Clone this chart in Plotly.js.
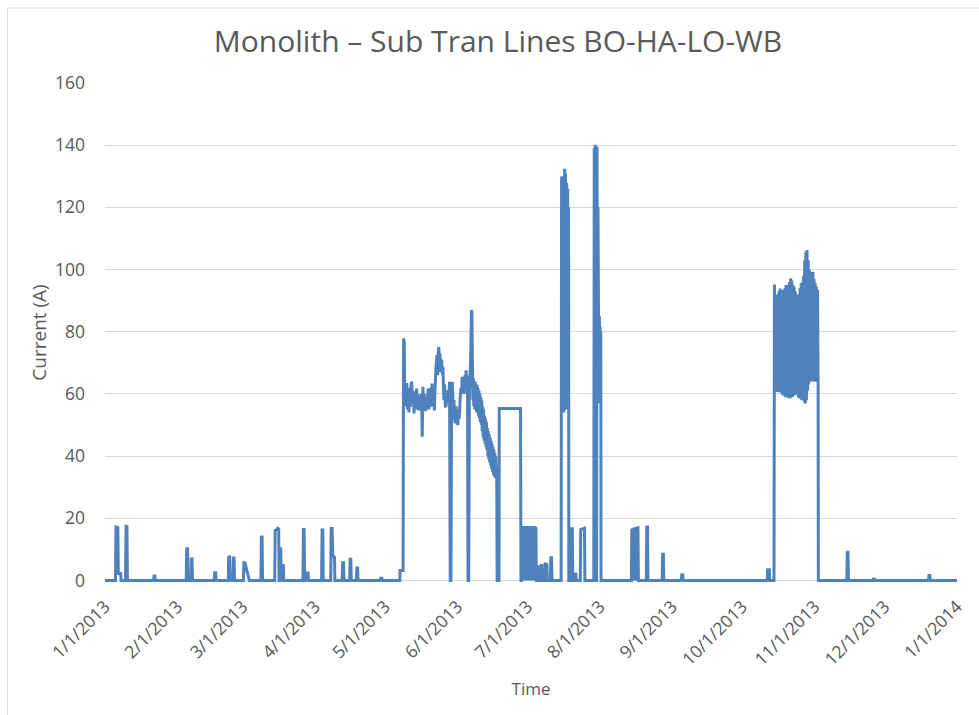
<!DOCTYPE html>
<html>
<head>
<meta charset="utf-8">
<script src="https://cdn.plot.ly/plotly-3.0.1.min.js"></script>
<style>
  html, body { margin: 0; padding: 0; background: #ffffff; }
  #chart { width: 979px; height: 715px; }
</style>
</head>
<body>
<div id="chart"></div>
<script>
// Time axis values are days elapsed since 2013-01-01; current in amperes.
const baseDate = '2013-01-01';

// January - April
const daysJanApr = [
  0,
  4.5, 4.7, 5.5, 5.7, 6.7, 6.9,
  8.8, 9.0, 9.4, 9.6,
  20.8, 21.0, 21.4, 21.6,
  34.8, 35.0, 35.4, 35.6,
  36.8, 37.0, 37.3, 37.5,
  46.8, 47.0, 47.4, 47.6,
  52.8, 53.0, 53.4, 53.6,
  54.8, 55.0, 55.3, 55.5,
  59.3, 59.5, 60.0, 61.0, 61.6, 61.8,
  66.8, 67.0, 67.3, 67.5,
  72.7, 72.9, 73.5, 74.0, 74.4, 74.6,
  74.8, 75.0, 75.3, 75.5,
  75.9, 76.1, 76.4, 76.6,
  84.8, 85.0, 85.3, 85.5,
  86.5, 86.7, 87.0, 87.2,
  92.8, 93.0, 93.3, 93.5,
  96.7, 96.9, 97.3, 97.6, 98.3, 98.5,
  101.6, 101.8, 102.2, 102.4,
  104.8, 105.0, 105.3, 105.5,
  107.7, 107.9, 108.2, 108.4,
  117.9, 118.1, 118.6, 118.8
];
const currentJanApr = [
  0,
  0, 17.2, 17, 2.2, 2.2, 0,
  0, 17.4, 17.3, 0,
  0, 1.4, 1.4, 0,
  0, 10.4, 10.2, 0,
  0, 6.9, 6.9, 0,
  0, 2.5, 2.5, 0,
  0, 7.8, 7.6, 0,
  0, 7.2, 7.2, 0,
  0, 5.7, 5.6, 2.5, 0.8, 0,
  0, 14.0, 14.0, 0,
  0, 16.1, 16.3, 16.8, 16.6, 0,
  0, 10.4, 10.2, 0,
  0, 4.8, 4.8, 0,
  0, 16.4, 16.4, 0,
  0, 2.4, 2.4, 0,
  0, 16.2, 16.2, 0,
  0, 16.7, 16.7, 8, 7.5, 0,
  0, 5.7, 5.7, 0,
  0, 6.8, 6.8, 0,
  0, 4.0, 4.0, 0,
  0, 0.7, 0.7, 0
];

// May - June
const daysMayJun = [
  126.3, 126.4, 127.7, 127.9, 128.2, 128.4, 128.6, 128.8, 129.0, 129.3,
  129.6, 129.9, 130.2, 130.5, 130.8, 131.1, 131.4, 131.7, 132.0, 132.4,
  132.7, 133.0, 133.5, 133.8, 134.1, 134.5, 134.9, 135.3, 135.6, 135.9,
  136.2, 136.5, 136.8, 137.1, 137.5, 137.8, 138.1, 138.4, 138.7, 139.0,
  139.2, 139.5, 139.8, 140.1, 140.4, 140.8, 141.1, 141.4, 141.8, 142.2,
  142.5, 142.8, 143.0, 143.3, 143.5, 143.8, 144.0, 144.3, 144.6, 144.8,
  145.0, 145.2, 145.5, 145.8, 146.1, 146.4, 146.7, 147.0, 147.3, 147.6,
  147.9, 148.2, 148.5, 148.8, 149.1, 149.5, 149.8, 150.0, 150.4, 150.7,
  151.2, 151.5, 151.8, 152.1, 152.5, 152.8, 153.0, 153.3, 153.5, 153.9,
  154.2, 154.5, 154.7, 155.0, 155.3, 155.5, 155.8, 156.1, 156.6, 157.0,
  157.2, 157.4, 157.6, 157.8, 158.0, 158.2, 158.4, 158.6, 158.8, 159.0,
  159.2, 159.4, 159.6, 159.8, 160.0, 160.2, 160.4, 160.6, 160.8, 161.0,
  161.2, 161.4, 161.6, 161.8, 162.0, 162.2, 162.4, 162.6, 162.8, 163.0,
  163.2, 163.4, 163.6, 163.8, 164.0, 164.2, 164.4, 164.6, 164.8, 165.0,
  165.2, 165.4, 165.6, 165.8, 166.0, 166.2, 166.4, 166.6, 166.8, 167.0,
  167.2, 167.4, 167.6, 167.8, 168.0
];
const currentMayJun = [
  0, 3.2, 3.2, 77.8, 77, 60, 63, 56, 62, 63.5,
  55, 60, 54, 62, 55.8, 63, 64, 57, 61, 53.7,
  60, 56, 61.7, 55, 60, 54.7, 59, 56, 60, 46.2,
  62.3, 56, 60, 55, 54.7, 59, 56, 61.7, 55, 60,
  55.8, 62, 57, 63.3, 56, 60, 54.7, 62, 68.7, 72.5,
  66, 74, 75.1, 70, 73, 67, 71, 70.3, 66, 68.7,
  62, 58, 63, 56, 55.8, 60, 57, 61.2, 58, 63.9,
  0, 0, 60, 63.9, 57, 58, 52, 50.5, 56, 51,
  50, 55, 52, 58, 62, 60, 65.5, 61, 64.4, 60,
  66, 63, 67.6, 62, 65.9, 0, 0, 60, 70, 87,
  86, 70, 58, 65, 56, 64, 55, 64, 55, 63,
  54, 63, 54, 62, 53, 61, 52, 60, 51, 59,
  50, 58, 48, 56, 46, 55, 45, 53, 44, 52,
  43, 51, 42, 49, 40, 48, 39, 47, 38, 46,
  37, 45, 36, 44, 35, 43, 34, 42, 33.5, 41,
  33, 40, 33, 37, 0
];

// Late June - July (first half)
const daysJul = [
  168.8, 168.9, 178.0, 178.2,
  178.4, 178.5, 178.7, 178.9, 179.1, 179.3, 179.5, 179.7, 179.9, 180.1,
  180.3, 180.5, 180.7, 180.9, 181.1, 181.3, 181.5, 181.7, 181.9, 182.1,
  182.3, 182.5, 182.7, 182.9, 183.1, 183.3, 183.5, 183.7, 183.9, 184.1,
  184.3, 184.6, 184.8,
  185.2, 185.4, 185.7, 185.9,
  186.6, 186.8, 187.1, 187.3,
  188.3, 188.5, 188.8, 189.0, 189.3, 189.5,
  190.8, 191.0, 191.3, 191.5
];
const currentJul = [
  0, 55.3, 55.3, 0,
  0, 17.3, 0, 17.5, 0, 17.2, 0, 17.5, 0, 17.4,
  0, 17.3, 0, 17.5, 0, 17.2, 0, 17.4, 0, 17.3,
  0, 17.5, 0, 17.2, 0, 17.4, 0, 17.3, 0, 17.5,
  0, 17.2, 0,
  0, 4.3, 4.3, 0,
  0, 4.8, 4.8, 0,
  0, 5.3, 5.3, 2, 5.4, 0,
  0, 7.3, 7.3, 0
];

// Late July - September
const daysJulSep = [
  195.4, 195.6, 195.8, 196.0, 196.2, 196.4, 196.6, 196.9, 197.1, 197.3,
  197.5, 197.8, 198.0, 198.2, 198.4, 198.6, 198.7,
  199.7, 199.9, 200.2, 200.4,
  201.2, 201.4, 201.7, 201.9,
  203.6, 203.8, 204.6, 205.4, 205.6,
  209.4, 209.6, 209.8, 210.0, 210.2, 210.4, 210.5, 210.6, 210.8, 211.0,
  211.2, 211.4, 211.6, 211.8, 212.0, 212.1, 212.3, 212.4, 212.5,
  225.5, 225.7, 225.9, 226.2, 226.4, 226.7, 226.9, 227.2, 227.4, 227.8, 228.0, 228.3, 228.5,
  231.9, 232.1, 232.4, 232.6,
  238.7, 238.9, 239.2, 239.4,
  246.9, 247.1, 247.5, 247.7
];
const currentJulSep = [
  0, 129.9, 60, 128, 56, 130, 54, 132.4, 58, 131,
  55, 127.8, 60, 126, 56, 120, 0,
  0, 16.6, 16.6, 0,
  0, 2.1, 2.1, 0,
  0, 16.4, 16.6, 16.8, 0,
  0, 139, 62, 140.1, 60, 139, 0, 0, 139.6, 62,
  120, 89, 60, 85, 57, 81.6, 60, 80, 0,
  0, 16.6, 0, 16.8, 0, 17.0, 0, 17.1, 0, 17.3, 0, 17.4, 0,
  0, 17.2, 17.2, 0,
  0, 8.4, 8.4, 0,
  0, 1.8, 1.8, 0
];

// October - December
const daysOctDec = [
  283.7, 283.9, 284.6, 284.8,
  286.6, 286.8, 287.0, 287.25, 287.5, 287.75, 288.0, 288.25, 288.5, 288.75,
  289.0, 289.25, 289.5, 289.75, 290.0, 290.25, 290.5, 290.75, 291.0, 291.25,
  291.5, 291.75, 292.0, 292.25, 292.5, 292.75, 293.0, 293.25, 293.5, 293.75,
  294.0, 294.25, 294.5, 294.75, 295.0, 295.25, 295.5, 295.75, 296.0, 296.25,
  296.5, 296.75, 297.0, 297.25, 297.5, 297.75, 298.0, 298.25, 298.5, 298.75,
  299.0, 299.25, 299.5, 299.75, 300.0, 300.25, 300.5, 300.75, 301.0, 301.25,
  301.5, 301.75, 302.0, 302.25, 302.5, 302.75, 303.0, 303.25, 303.5, 303.75,
  304.0, 304.25, 304.5, 304.75, 305.0, 305.25, 305.5, 305.6,
  317.8, 318.0, 318.3, 318.5,
  329.0, 329.2, 329.6, 329.8,
  352.8, 353.0, 353.4, 353.6,
  365
];
const currentOctDec = [
  0, 3.4, 3.4, 0,
  0, 95.2, 62, 91, 60.6, 92, 61, 90.5, 60.6, 93,
  60.5, 93.9, 61, 92, 60, 93.4, 59.5, 92.5, 60, 94,
  59, 95, 60.5, 95, 58.8, 94, 60, 96, 58.5, 97.2,
  60, 96.5, 59, 95, 61, 94.5, 59.6, 93, 60, 92,
  61, 91.2, 59, 92, 58.5, 94, 60, 95.6, 58, 96,
  60, 98, 57.5, 103, 56.9, 105.7, 58, 106.3, 61, 103,
  63, 100, 64.4, 99.3, 64, 98, 65, 99.3, 64, 97,
  64.5, 95.6, 63.9, 94.5, 64, 93.4, 63.3, 0,
  0, 9.1, 9.1, 0,
  0, 0.5, 0.5, 0,
  0, 1.6, 1.6, 0,
  0
];

const monthTickFormat = '%-m/%-d/%Y';
const chartTitle = 'Monolith \u2013 Sub Tran Lines BO-HA-LO-WB';
const xTitle = 'Time';
const yTitle = 'Current (A)';

const allDays = [].concat(daysJanApr, daysMayJun, daysJul, daysJulSep, daysOctDec);
const allCurrent = [].concat(currentJanApr, currentMayJun, currentJul, currentJulSep, currentOctDec);
if (allDays.length !== allCurrent.length) console.error('length mismatch', allDays.length, allCurrent.length);

const base = Date.parse(baseDate + 'T00:00:00Z');
const toDateString = d => new Date(base + d * 86400000).toISOString().slice(0, 19).replace('T', ' ');
const xDates = allDays.map(toDateString);

const FONT = '"Open Sans", sans-serif';
const GREY = '#595959';

const trace = {
  type: 'scatter',
  mode: 'lines',
  x: xDates,
  y: allCurrent,
  line: { color: '#4F81BD', width: 3, simplify: false },
  hoverinfo: 'skip'
};

const L = 105, R = 22, T = 83, B = 133, W = 979, H = 715;
const pw = W - L - R, ph = H - T - B;
const px2x = p => (p - L) / pw;
const py2y = p => (H - B - p) / ph;

const layout = {
  width: W, height: H,
  margin: { l: L, r: R, t: T, b: B, pad: 0 },
  paper_bgcolor: '#ffffff',
  plot_bgcolor: '#ffffff',
  font: { family: FONT, color: GREY, size: 17.5 },
  showlegend: false,
  title: {
    text: chartTitle,
    font: { family: FONT, size: 30, color: GREY },
    xref: 'container', x: 498 / W, xanchor: 'center',
    yref: 'container', y: 1 - 41 / H, yanchor: 'middle'
  },
  xaxis: {
    type: 'date',
    range: [baseDate, '2014-01-01'],
    tick0: baseDate,
    dtick: 'M1',
    tickformat: monthTickFormat,
    tickangle: -45,
    tickfont: { family: FONT, size: 17.5, color: GREY },
    showgrid: false,
    zeroline: false,
    showline: false,
    ticks: '',
    ticklabelstandoff: 10,
    title: { text: xTitle, font: { family: FONT, size: 17, color: GREY }, standoff: 14 }
  },
  yaxis: {
    range: [-0.5, 160],
    tick0: 0,
    dtick: 20,
    tickfont: { family: FONT, size: 17.5, color: GREY },
    showgrid: true,
    gridcolor: '#d9d9d9',
    gridwidth: 1,
    zeroline: false,
    showline: false,
    ticks: '',
    ticklabelstandoff: 19,
    title: { text: yTitle, font: { family: FONT, size: 19, color: GREY }, standoff: 3 }
  },
  shapes: [
    { type: 'line', xref: 'paper', yref: 'paper', x0: px2x(7.5), x1: px2x(7.5), y0: py2y(8), y1: py2y(730),
      line: { color: '#d9d9d9', width: 1 } },
    { type: 'line', xref: 'paper', yref: 'paper', x0: px2x(7.5), x1: px2x(990), y0: py2y(8), y1: py2y(8),
      line: { color: '#d9d9d9', width: 1 } }
  ]
};

Plotly.newPlot('chart', [trace], layout, { staticPlot: true, displayModeBar: false });
</script>
</body>
</html>
